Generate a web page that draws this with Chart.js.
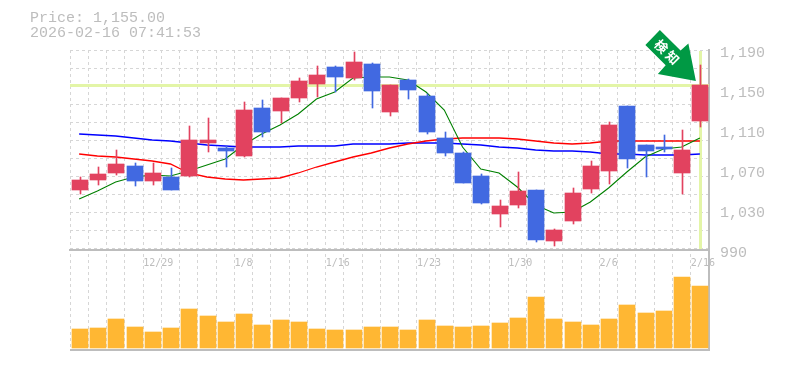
<!DOCTYPE html>
<html><head><meta charset="utf-8">
<style>html,body{margin:0;padding:0;background:#fff}canvas{display:block}</style>
<script src="https://cdn.jsdelivr.net/npm/chart.js@4"></script></head>
<body><div style="width:785px;height:370px"><canvas id="c" width="785" height="370"></canvas></div>
<script>
const dates = ['12/19','12/22','12/23','12/24','12/29','12/30','1/5','1/6','1/7','1/8','1/9','1/13','1/14','1/15','1/16','1/19','1/20','1/21','1/22','1/23','1/26','1/27','1/28','1/29','1/30','2/2','2/3','2/4','2/5','2/6','2/9','2/10','2/12','2/13','2/16'];
const shownDates = ['12/29','1/8','1/16','1/23','1/30','2/6','2/16'];
const opens  = [1050,1060,1067,1074,1059,1063,1064,1097,1092,1084,1132,1129,1142,1156,1173,1162,1176,1128,1160,1144,1102,1087,1064,1026,1035,1050,999,1019,1051,1069,1134,1095,1093,1067,1119];
const closes = [1060,1066,1076,1059,1067,1050,1100,1100,1089,1130,1108,1142,1159,1165,1163,1178,1149,1155,1150,1108,1087,1057,1037,1034,1049,1000,1010,1047,1074,1115,1081,1089,1091,1090,1155];
const highs  = [1063,1073,1090,1077,1077,1072,1114,1122,1094,1138,1140,1142,1162,1174,1174,1188,1177,1155,1161,1146,1108,1088,1066,1040,1068,1050,1011,1052,1079,1118,1134,1095,1105,1110,1175];
const lows   = [1046,1055,1065,1054,1055,1050,1063,1088,1073,1083,1103,1117,1138,1143,1148,1160,1132,1124,1141,1106,1084,1057,1036,1013,1032,998,994,1016,1047,1056,1072,1063,1088,1046,1113];
const volumes = [19,20,29,21,16,20,39,32,26,34,23,28,26,19,18,18,21,21,18,28,22,21,22,25,30,51,29,26,23,29,43,35,37,71,62];
const maShort = [1041,1049,1058,1063,1065,1064,1069,1075,1081,1095,1106,1115,1126,1141,1148,1162,1163,1163,1160,1148,1130,1093,1071,1067,1053,1035,1027,1028,1038,1052,1068,1083,1091,1093,1102];
const maMid   = [1086,1084,1083,1081,1079,1076,1067,1063,1061,1060,1061,1062,1067,1073,1078,1083,1087,1092,1096,1099,1101,1102,1102,1102,1101,1099,1097,1096,1097,1099,1099,1099,1099,1099,1099];
const maLong  = [1106,1105,1104,1102,1100,1099,1097,1095,1094,1093,1093,1093,1094,1094,1094,1096,1096,1096,1097,1097,1097,1096,1095,1093,1092,1090,1089,1089,1088,1086,1086,1085,1085,1085,1086];
const priceMin = 990, priceMax = 1190;
const priceTicks = [1190,1150,1110,1070,1030,990];
const gridValues = [1190,1172,1154,1136,1118,1100,1082,1064,1046,1028,1010,992];
const lastPrice = 1155;
const header = ['Price: 1,155.00','2026-02-16 07:41:53'];
const arrowText = ['検','知'];
const RED='#e2425f', BLUE='#4169e1', GRAY='#bdbdbd', GRID='#d6d6d6', HILITE='#e3f5a7', GREEN='#009944';
const candleColors = opens.map((o,i)=>closes[i]>=o?RED:BLUE);
const bodies = opens.map((o,i)=>[o,closes[i]]);
const wicks = lows.map((l,i)=>[l,highs[i]]);
const NUDGE = 0.6;

const decorations = {
  id:'decorations',
  afterDatasetsUpdate(chart){
    chart.data.datasets.forEach((ds,i)=>{
      if(ds.type!=='bar') return;
      chart.getDatasetMeta(i).data.forEach(el=>{
        el.x=Math.round(el.x+NUDGE)+(ds.barThickness===1?0.5:0);
      });
    });
  },
  beforeDatasetsDraw(chart){
    const {ctx,scales:{x,y},chartArea:a}=chart;
    ctx.save();
    ctx.fillStyle=HILITE;
    const py=Math.round(y.getPixelForValue(lastPrice));
    ctx.fillRect(a.left,py-1,a.right-a.left,3);
    const px=Math.round(x.getPixelForValue(dates.length-1)+NUDGE);
    ctx.fillRect(px-1,y.top+1,3,y.bottom-y.top-2);
    ctx.restore();
  },
  afterDraw(chart){
    const {ctx,scales:{x,y}}=chart;
    ctx.save();
    ctx.fillStyle=GRAY;
    ctx.font='15px "Liberation Mono"';
    ctx.textBaseline='middle';
    ctx.fillText(header[0],30,18);
    ctx.fillText(header[1],30,33);
    const tx=x.getPixelForValue(dates.length-1)-4, ty=y.getPixelForValue(highs[highs.length-1])+16;
    const pts=[[0,0],[-7.5,-37.5],[-15.3,-30.5],[-36,-51],[-50.5,-36],[-30.2,-15.7],[-38,-7]];
    ctx.fillStyle=GREEN;
    ctx.beginPath();
    pts.forEach((p,i)=>i?ctx.lineTo(tx+p[0],ty+p[1]):ctx.moveTo(tx+p[0],ty+p[1]));
    ctx.closePath();ctx.fill();
    ctx.translate(tx-29,ty-29);
    ctx.rotate(Math.PI/4);
    ctx.fillStyle='#fff';
    ctx.font='bold 13px "Noto Sans CJK JP"';
    ctx.textAlign='center';
    ctx.fillText(arrowText[0],-8,0);
    ctx.fillText(arrowText[1],8,0);
    ctx.restore();
  }
};

new Chart(document.getElementById('c'),{
  data:{labels:dates,datasets:[
    {type:'bar',data:bodies,yAxisID:'y',backgroundColor:candleColors,barThickness:16,grouped:false,order:0},
    {type:'bar',data:wicks,yAxisID:'y',backgroundColor:candleColors,barThickness:1,grouped:false,order:1},
    {type:'line',data:maShort,yAxisID:'y',borderColor:'#008000',borderWidth:1.1,pointRadius:0,order:2},
    {type:'line',data:maMid,yAxisID:'y',borderColor:'#ff0000',borderWidth:1.3,pointRadius:0,order:3},
    {type:'line',data:maLong,yAxisID:'y',borderColor:'#0000ff',borderWidth:1.3,pointRadius:0,order:4},
    {type:'bar',data:volumes,yAxisID:'v',backgroundColor:'#ffb733',barThickness:16,grouped:false,order:5}
  ]},
  options:{
    responsive:false,animation:false,events:[],
    layout:{padding:{left:70,top:50,right:0,bottom:20}},
    plugins:{legend:{display:false},tooltip:{enabled:false}},
    scales:{
      x:{
        type:'category',offset:true,position:{y:priceMin},
        grid:{color:GRID,lineWidth:1,offset:true,drawTicks:false},
        border:{display:true,color:GRAY,width:2,dash:[3,3]},
        ticks:{autoSkip:false,maxRotation:0,minRotation:0,align:'start',labelOffset:-9,padding:7,color:GRAY,
          font:{family:'"DejaVu Sans Mono"',size:10},
          callback(v){const s=this.getLabelForValue(v);return shownDates.includes(s)?s:'';}}
      },
      y:{
        type:'linear',position:'right',stack:'panes',stackWeight:2,min:priceMin,max:priceMax,
        afterBuildTicks(s){s.ticks=[...new Set([...priceTicks,...gridValues])].sort((a,b)=>a-b).map(value=>({value}));},
        afterFit(s){s.width=76;},
        grid:{drawTicks:false,color:c=>gridValues.includes(c.tick&&c.tick.value)?GRID:'transparent'},
        border:{display:true,color:GRAY,width:2,dash:[3,3]},
        ticks:{autoSkip:false,padding:11,labelOffset:3,color:GRAY,font:{family:'"Liberation Mono"',size:15},
          callback:v=>priceTicks.includes(v)?v.toLocaleString('en-US'):''}
      },
      v:{
        type:'linear',position:'right',stack:'panes',stackWeight:1,min:-2,max:98,
        afterBuildTicks(s){s.ticks=[{value:s.min}];},
        afterFit(s){s.width=76;},
        grid:{drawTicks:false,color:GRAY,lineWidth:2},
        border:{display:true,color:GRAY,width:2},
        ticks:{display:false}
      }
    }
  },
  plugins:[decorations]
});
</script></body></html>
